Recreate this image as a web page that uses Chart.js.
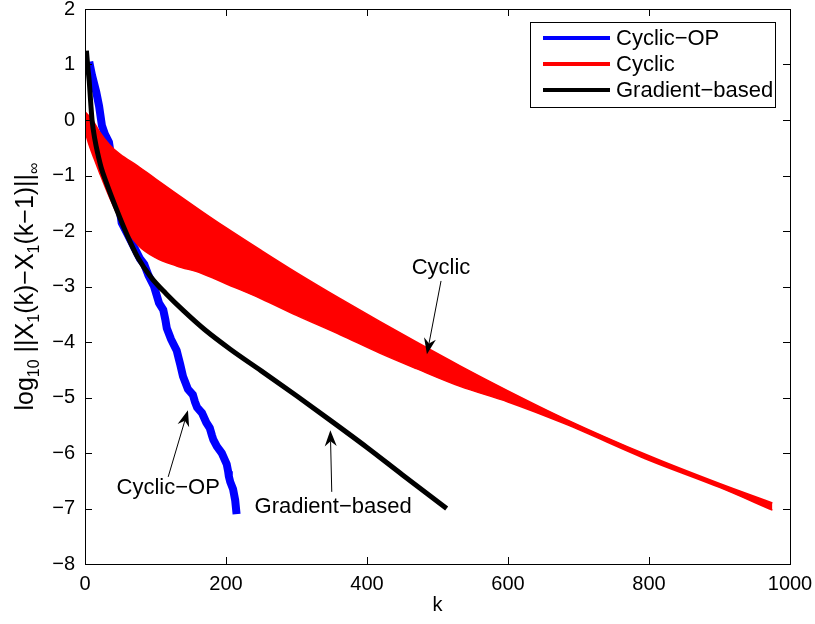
<!DOCTYPE html>
<html>
<head>
<meta charset="utf-8">
<script src="https://cdn.jsdelivr.net/npm/chart.js@4.4.0/dist/chart.umd.min.js"></script>
<style>
body{margin:0;background:#fff;}
</style>
</head>
<body>
<canvas id="myChart" width="815" height="624"></canvas>
<script>
// values
var opK  = [6, 10, 16, 20, 24, 28, 34, 40, 46, 52, 60, 70, 78, 84, 90, 98, 105, 111, 114, 116, 122, 130, 133, 135, 139, 146, 153, 156, 159, 166, 172, 177, 180, 182, 187, 194, 201, 203, 204, 206, 210, 213, 215];
var opY  = [1.05, 0.8, 0.5, 0.25, -0.1, -0.25, -0.4, -0.9, -1.35, -1.85, -2.05, -2.3, -2.5, -2.6, -2.8, -3.0, -3.3, -3.42, -3.6, -3.75, -3.95, -4.15, -4.3, -4.4, -4.62, -4.85, -4.95, -5.08, -5.18, -5.28, -5.45, -5.55, -5.68, -5.76, -5.88, -6.0, -6.2, -6.33, -6.42, -6.52, -6.65, -6.85, -7.1];

var cycK   = [0, 5, 13, 20, 35, 50, 75, 100, 130, 165, 200, 250, 300, 362, 418, 470, 532, 600, 680, 800, 900, 975];
var cycUp  = [0.15, 0.08, -0.05, -0.2, -0.45, -0.62, -0.83, -1.06, -1.33, -1.64, -1.94, -2.35, -2.75, -3.22, -3.63, -4.0, -4.43, -4.88, -5.38, -6.05, -6.55, -6.9];
var cycLow = [-0.2, -0.42, -0.7, -0.93, -1.4, -1.8, -2.25, -2.48, -2.63, -2.76, -2.95, -3.22, -3.52, -3.87, -4.2, -4.48, -4.8, -5.08, -5.47, -6.13, -6.62, -7.03];

var gradK = [2, 4, 6, 8, 10, 14, 18, 23, 30, 45, 60, 75, 94, 115, 140, 170, 206, 250, 300, 350, 400, 450, 513];
var gradY = [1.25, 0.95, 0.7, 0.33, 0.0, -0.35, -0.6, -0.86, -1.12, -1.62, -2.08, -2.48, -2.84, -3.13, -3.44, -3.78, -4.13, -4.52, -4.97, -5.43, -5.9, -6.39, -7.0];

var xMin = 0, xMax = 1000, xStep = 200;
var yMin = -8, yMax = 2, yStep = 1;

// text labels with arrows (data units)
var notes = [
  {text: 'Cyclic',          x: 505, y: -2.67, fx: 505, fy: -2.90, tx: 485, ty: -4.22},
  {text: 'Cyclic\u2212OP',  x: 118, y: -6.63, fx: 118, fy: -6.43, tx: 146, ty: -5.23},
  {text: 'Gradient\u2212based', x: 352, y: -6.97, fx: 350, fy: -6.70, tx: 348, ty: -5.59}
];

function pts(ks, ys){
  var out = [];
  for (var i = 0; i < ks.length; i++) out.push({x: ks[i], y: ys[i]});
  return out;
}

function fmt(v){
  return (v < 0 ? '\u2212' : '') + Math.abs(v);
}

function arrow(ctx, x1, y1, x2, y2){
  var ang = Math.atan2(y2 - y1, x2 - x1);
  var c = Math.cos(ang), s = Math.sin(ang);
  var len = 16, half = 6, notch = 11;
  ctx.beginPath();
  ctx.moveTo(x1, y1);
  ctx.lineTo(x2 - c*notch, y2 - s*notch);
  ctx.stroke();
  ctx.beginPath();
  ctx.moveTo(x2, y2);
  ctx.lineTo(x2 - c*len + s*half, y2 - s*len - c*half);
  ctx.lineTo(x2 - c*notch, y2 - s*notch);
  ctx.lineTo(x2 - c*len - s*half, y2 - s*len + c*half);
  ctx.closePath();
  ctx.fill();
}

var decor = {
  id: 'decor',
  afterDraw: function(chart){
    var ctx = chart.ctx, a = chart.chartArea;
    var xs = chart.scales.x, ys = chart.scales.y;
    ctx.save();
    ctx.strokeStyle = '#000';
    ctx.fillStyle = '#000';
    ctx.lineWidth = 1;
    // box and inward ticks
    ctx.strokeRect(a.left + 0.5, a.top + 0.5, a.right - a.left, a.bottom - a.top);
    ctx.beginPath();
    xs.ticks.forEach(function(t){
      var p = Math.round(xs.getPixelForValue(t.value)) + 0.5;
      ctx.moveTo(p, a.bottom); ctx.lineTo(p, a.bottom - 7);
      ctx.moveTo(p, a.top); ctx.lineTo(p, a.top + 7);
    });
    ys.ticks.forEach(function(t){
      var p = Math.round(ys.getPixelForValue(t.value)) + 0.5;
      ctx.moveTo(a.left, p); ctx.lineTo(a.left + 7, p);
      ctx.moveTo(a.right, p); ctx.lineTo(a.right - 7, p);
    });
    ctx.stroke();

    // annotations
    ctx.font = '22px "Liberation Sans", Arial, sans-serif';
    ctx.textAlign = 'center';
    ctx.textBaseline = 'middle';
    notes.forEach(function(n){
      ctx.fillText(n.text, xs.getPixelForValue(n.x), ys.getPixelForValue(n.y));
      arrow(ctx, xs.getPixelForValue(n.fx), ys.getPixelForValue(n.fy),
                 xs.getPixelForValue(n.tx), ys.getPixelForValue(n.ty));
    });

    // legend
    var items = chart.data.datasets.filter(function(d){ return d.label; });
    var lx = 530, ly = 22, lw = 245, lh = 85;
    ctx.fillStyle = '#fff';
    ctx.fillRect(lx, ly, lw, lh);
    ctx.strokeRect(lx + 0.5, ly + 0.5, lw, lh);
    ctx.textAlign = 'left';
    items.forEach(function(d, i){
      var yy = 38 + i * 26;
      ctx.strokeStyle = d.borderColor;
      ctx.lineWidth = 4;
      ctx.beginPath(); ctx.moveTo(543, yy); ctx.lineTo(610, yy); ctx.stroke();
      ctx.fillStyle = '#000';
      ctx.fillText(d.label, 616, yy + 1);
    });

    // y axis title with subscripts
    var parts = [['log',0],['10',1],[' ||X',0],['1',1],['(k)\u2212X',0],['1',1],['(k\u22121)||',0],['\u221e',1]];
    var big = '25px "Liberation Sans", Arial, sans-serif';
    var small = '16px "Liberation Sans", Arial, sans-serif';
    ctx.translate(33, (a.top + a.bottom) / 2);
    ctx.rotate(-Math.PI / 2);
    ctx.textBaseline = 'alphabetic';
    var total = 0;
    parts.forEach(function(p){ ctx.font = p[1] ? small : big; total += ctx.measureText(p[0]).width; });
    var cx = -total / 2;
    ctx.fillStyle = '#000';
    parts.forEach(function(p){
      ctx.font = p[1] ? small : big;
      ctx.fillText(p[0], cx, p[1] ? 6 : 0);
      cx += ctx.measureText(p[0]).width;
    });
    ctx.restore();
  }
};

Chart.defaults.font.family = '"Liberation Sans", Arial, sans-serif';
Chart.defaults.color = '#000';

var ctx = document.getElementById('myChart').getContext('2d');
new Chart(ctx, {
  type: 'line',
  data: {
    datasets: [
      {label: 'Cyclic\u2212OP', data: pts(opK, opY), borderColor: 'rgb(0,0,255)', borderWidth: 8,
       pointRadius: 0, tension: 0, fill: false, order: 3},
      {label: 'Cyclic', data: pts(cycK, cycUp), borderColor: 'rgb(255,0,0)', backgroundColor: 'rgb(255,0,0)',
       borderWidth: 1.5, pointRadius: 0, cubicInterpolationMode: 'monotone', fill: '+1', order: 2},
      {label: '', data: pts(cycK, cycLow), borderColor: 'rgb(255,0,0)', borderWidth: 1.5,
       pointRadius: 0, cubicInterpolationMode: 'monotone', fill: false, order: 2},
      {label: 'Gradient\u2212based', data: pts(gradK, gradY), borderColor: '#000', borderWidth: 5,
       pointRadius: 0, cubicInterpolationMode: 'monotone', fill: false, order: 0}
    ]
  },
  options: {
    responsive: false,
    animation: false,
    layout: {padding: {top: 9, right: 25, left: 0, bottom: 0}},
    plugins: {legend: {display: false}, tooltip: {enabled: false}},
    scales: {
      x: {
        type: 'linear', min: xMin, max: xMax,
        grid: {display: false, drawTicks: false},
        border: {display: false},
        ticks: {stepSize: xStep, padding: 8, font: {size: 20}, color: '#000', maxRotation: 0, callback: fmt},
        title: {display: true, text: 'k', font: {size: 20}, color: '#000', padding: {top: 0, bottom: 7}},
        afterFit: function(s){ s.height = 60; s.paddingLeft = 0; s.paddingRight = 0; }
      },
      y: {
        type: 'linear', min: yMin, max: yMax,
        grid: {display: false, drawTicks: false},
        border: {display: false},
        ticks: {stepSize: yStep, padding: 10, font: {size: 20}, color: '#000', callback: fmt},
        afterFit: function(s){ s.width = 85; s.paddingTop = 0; s.paddingBottom = 0; }
      }
    }
  },
  plugins: [decor]
});
</script>
</body>
</html>
